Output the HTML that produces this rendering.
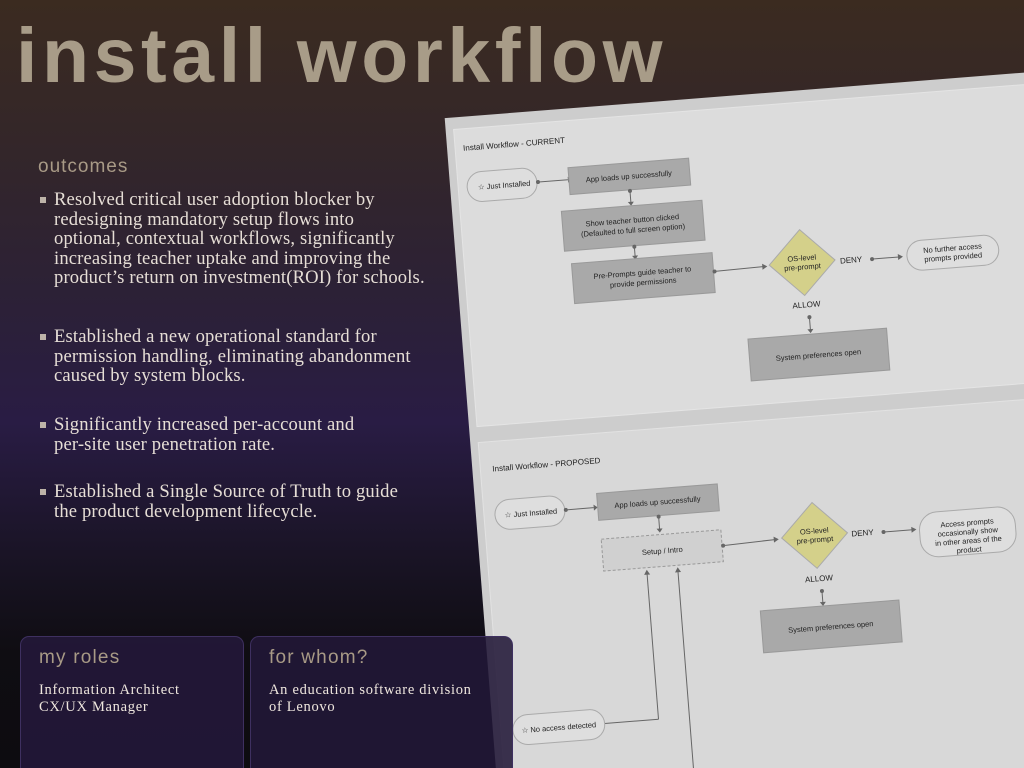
<!DOCTYPE html>
<html><head><meta charset="utf-8"><style>
*{margin:0;padding:0;box-sizing:border-box}
html,body{width:1024px;height:768px;overflow:hidden}
body{position:relative;font-family:"Liberation Sans",sans-serif;
background:linear-gradient(180deg,#3b2b20 0%,#33262a 20%,#2c2136 38%,#291c44 55%,#1a1426 72%,#0f0d12 85%,#0d0c10 100%);}
.title{position:absolute;left:16px;top:12px;font-size:77px;font-weight:bold;color:#a89c88;letter-spacing:4.6px;white-space:nowrap}
.h{position:absolute;color:#a89a86;font-size:19px;letter-spacing:1px}
.b{position:absolute;left:54px;font-family:"Liberation Serif",serif;font-size:18.6px;letter-spacing:0.15px;line-height:19.5px;color:#e6ded6;white-space:nowrap}
.b:before{content:"";position:absolute;left:-14px;top:7px;width:6px;height:6px;background:#bdb3a8}
.card{position:absolute;top:636px;height:132px;background:rgba(34,24,56,0.93);border:1px solid #3e3060;border-bottom:none;border-radius:9px 9px 0 0;overflow:hidden}
.card .ct{position:absolute;left:18px;top:10px;color:#a89a86;font-size:19px;letter-spacing:1.2px}
.card .cb{position:absolute;left:18px;top:45px;font-family:"Liberation Serif",serif;font-size:14.5px;letter-spacing:0.7px;line-height:16.5px;color:#eee6de;white-space:nowrap}
svg{position:absolute;left:0;top:0;overflow:hidden}
</style></head><body>
<div class="title">install workflow</div>
<div class="h" style="left:38px;top:156px">outcomes</div>
<div class="b" style="top:190px">Resolved critical user adoption blocker by<br>redesigning mandatory setup flows into<br>optional, contextual workflows, significantly<br>increasing teacher uptake and improving the<br>product’s return on investment(ROI) for schools.</div>
<div class="b" style="top:327px">Established a new operational standard for<br>permission handling, eliminating abandonment<br>caused by system blocks.</div>
<div class="b" style="top:415px">Significantly increased per-account and<br>per-site user penetration rate.</div>
<div class="b" style="top:482px">Established a Single Source of Truth to guide<br>the product development lifecycle.</div>

<svg width="1024" height="768" viewBox="0 0 1024 768">
<g transform="rotate(-4.5 447 122)" font-family="Liberation Sans, sans-serif" fill="#222">
<g transform="translate(447 122)">
<rect x="-2" y="-4" width="640" height="700" fill="#cdcdcd"/>
<rect x="6" y="8" width="600" height="298" fill="#dcdcdc" stroke="#e4e4e4"/>
<rect x="6" y="322" width="600" height="370" fill="#d8d8d8" stroke="#e2e2e2"/>
<text x="14" y="30" font-size="8">Install Workflow - CURRENT</text>
<rect x="15" y="52" width="70" height="30" rx="15" fill="#dedede" stroke="#aaa"/>
<text x="52" y="70" font-size="7.5" text-anchor="middle">☆ Just Installed</text>
<line x1="85" y1="67" x2="116" y2="67" stroke="#666"/><circle cx="86" cy="67" r="2" fill="#666"/><path d="M116 64l4 3-4 3z" fill="#666"/>
<rect x="117" y="55" width="121" height="27" fill="#a9a9a9" stroke="#999"/>
<text x="177" y="71" font-size="7.5" text-anchor="middle">App loads up successfully</text>
<line x1="177" y1="82" x2="177" y2="95" stroke="#666"/><circle cx="177" cy="83" r="2" fill="#666"/><path d="M174 94l3 4 3-4z" fill="#666"/>
<rect x="107" y="98" width="141" height="40" fill="#a9a9a9" stroke="#999"/>
<text x="177" y="115" font-size="7.5" text-anchor="middle">Show teacher button clicked</text>
<text x="177" y="125" font-size="7.5" text-anchor="middle">(Defaulted to full screen option)</text>
<line x1="177" y1="138" x2="177" y2="149" stroke="#666"/><circle cx="177" cy="139" r="2" fill="#666"/><path d="M174 148l3 4 3-4z" fill="#666"/>
<rect x="113" y="151" width="141" height="40" fill="#a9a9a9" stroke="#999"/>
<text x="183" y="168" font-size="7.5" text-anchor="middle">Pre-Prompts guide teacher to</text>
<text x="183" y="178" font-size="7.5" text-anchor="middle">provide permissions</text>
<line x1="254" y1="170" x2="304" y2="169" stroke="#666"/><circle cx="255" cy="170" r="2" fill="#666"/><path d="M303 166l5 3-5 3z" fill="#666"/>
<path d="M343 135 L376 168 L343 201 L310 168 Z" fill="#d4d08a" stroke="#aaa"/>
<text x="343" y="166" font-size="7.5" text-anchor="middle">OS-level</text>
<text x="343" y="175" font-size="7.5" text-anchor="middle">pre-prompt</text>
<text x="392" y="172" font-size="8" text-anchor="middle">DENY</text>
<line x1="412" y1="170" x2="440" y2="170" stroke="#666"/><circle cx="413" cy="170" r="2" fill="#666"/><path d="M439 167l5 3-5 3z" fill="#666"/>
<rect x="448" y="155" width="92" height="30" rx="15" fill="#dedede" stroke="#aaa"/>
<text x="494" y="168" font-size="7.5" text-anchor="middle">No further access</text>
<text x="494" y="177" font-size="7.5" text-anchor="middle">prompts provided</text>
<text x="344" y="213" font-size="8" text-anchor="middle">ALLOW</text>
<line x1="346" y1="222" x2="346" y2="236" stroke="#666"/><circle cx="346" cy="223" r="2" fill="#666"/><path d="M343 235l3 4 3-4z" fill="#666"/>
<rect x="283" y="240" width="139" height="42" fill="#a9a9a9" stroke="#999"/>
<text x="352" y="264" font-size="7.5" text-anchor="middle">System preferences open</text>
<text x="18" y="352" font-size="8">Install Workflow - PROPOSED</text>
<rect x="17" y="381" width="70" height="30" rx="15" fill="#dedede" stroke="#aaa"/>
<text x="53" y="399" font-size="7.5" text-anchor="middle">☆ Just Installed</text>
<line x1="87" y1="396" x2="116" y2="396" stroke="#666"/><circle cx="88" cy="396" r="2" fill="#666"/><path d="M116 393l4 3-4 3z" fill="#666"/>
<rect x="120" y="382" width="121" height="27" fill="#a9a9a9" stroke="#999"/>
<text x="180" y="398" font-size="7.5" text-anchor="middle">App loads up successfully</text>
<line x1="180" y1="409" x2="180" y2="423" stroke="#666"/><circle cx="180" cy="410" r="2" fill="#666"/><path d="M177 422l3 4 3-4z" fill="#666"/>
<rect x="121" y="428" width="120" height="32" fill="#d0d0d0" stroke="#999" stroke-dasharray="3 2"/>
<text x="181" y="447" font-size="7.5" text-anchor="middle">Setup / Intro</text>
<line x1="241" y1="444" x2="294" y2="442" stroke="#666"/><circle cx="242" cy="444" r="2" fill="#666"/><path d="M293 439l5 3-5 3z" fill="#666"/>
<path d="M334 408 L367 441 L334 474 L301 441 Z" fill="#d4d08a" stroke="#aaa"/>
<text x="334" y="439" font-size="7.5" text-anchor="middle">OS-level</text>
<text x="334" y="448" font-size="7.5" text-anchor="middle">pre-prompt</text>
<text x="382" y="445" font-size="8" text-anchor="middle">DENY</text>
<line x1="402" y1="443" x2="432" y2="443" stroke="#666"/><circle cx="403" cy="443" r="2" fill="#666"/><path d="M431 440l5 3-5 3z" fill="#666"/>
<rect x="439" y="427" width="96" height="45" rx="18" fill="#dedede" stroke="#aaa"/>
<text x="487" y="443" font-size="7.5" text-anchor="middle">Access prompts</text>
<text x="487" y="452" font-size="7.5" text-anchor="middle">occasionally show</text>
<text x="487" y="461" font-size="7.5" text-anchor="middle">in other areas of the</text>
<text x="487" y="470" font-size="7.5" text-anchor="middle">product</text>
<text x="335" y="487" font-size="8" text-anchor="middle">ALLOW</text>
<line x1="337" y1="496" x2="337" y2="509" stroke="#666"/><circle cx="337" cy="497" r="2" fill="#666"/><path d="M334 508l3 4 3-4z" fill="#666"/>
<rect x="274" y="512" width="139" height="42" fill="#a9a9a9" stroke="#999"/>
<text x="343" y="536" font-size="7.5" text-anchor="middle">System preferences open</text>
<line x1="164" y1="612" x2="164" y2="466" stroke="#666"/><path d="M161 467l3-5 3 5z" fill="#666"/>
<line x1="110" y1="612" x2="164" y2="612" stroke="#666"/>
<line x1="195" y1="690" x2="195" y2="466" stroke="#666"/><path d="M192 467l3-5 3 5z" fill="#666"/>
<rect x="18" y="597" width="92" height="30" rx="15" fill="#dedede" stroke="#aaa"/>
<text x="64" y="615" font-size="7.5" text-anchor="middle">☆ No access detected</text>
</g></g></svg>

<div class="card" style="left:20px;width:224px"><div class="ct">my roles</div><div class="cb">Information Architect<br>CX/UX Manager</div></div>
<div class="card" style="left:250px;width:263px;background:rgba(34,24,56,0.88)"><div class="ct">for whom?</div><div class="cb">An education software division<br>of Lenovo</div></div>
</body></html>
